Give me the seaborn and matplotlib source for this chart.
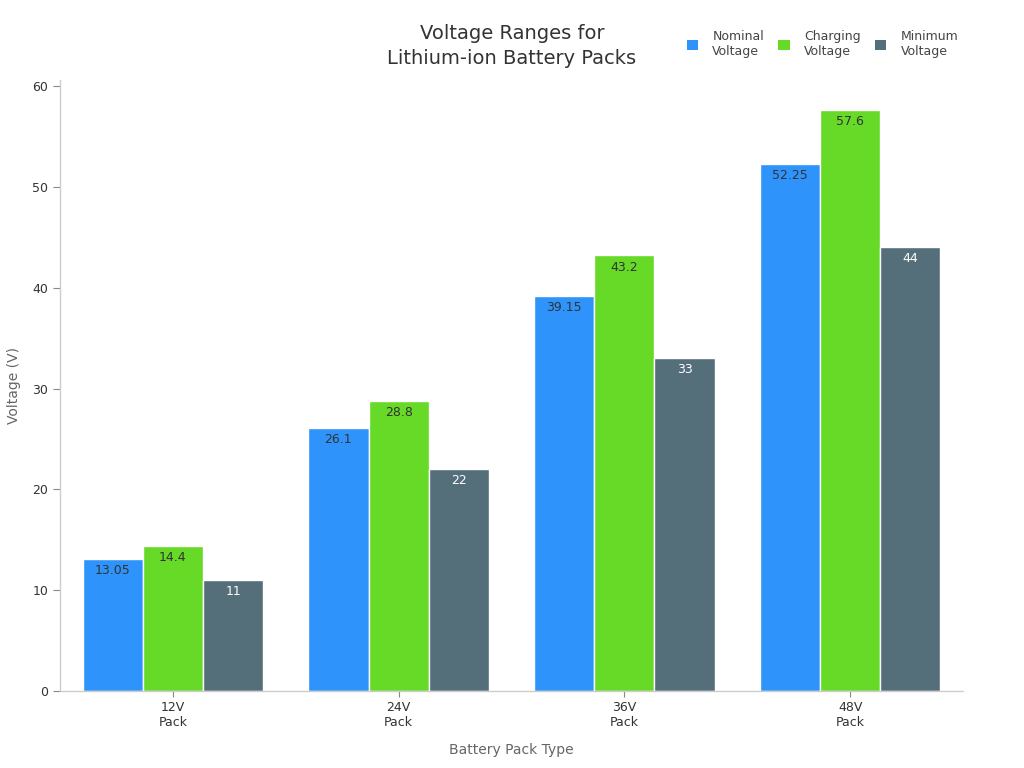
import matplotlib
matplotlib.use("Agg")
import matplotlib.pyplot as plt
import seaborn as sns
import pandas as pd
from matplotlib.patches import Patch

categories = ["12V\nPack", "24V\nPack", "36V\nPack", "48V\nPack"]
series_names = ["Nominal\nVoltage", "Charging\nVoltage", "Minimum\nVoltage"]
nominal = [13.05, 26.1, 39.15, 52.25]
charging = [14.4, 28.8, 43.2, 57.6]
minimum = [11, 22, 33, 44]
colors = ["#2E93FA", "#66DA26", "#546E7A"]
label_colors = ["#333333", "#333333", "#ffffff"]

rows = []
for name, vals in zip(series_names, [nominal, charging, minimum]):
    for c, v in zip(categories, vals):
        rows.append({"Battery Pack Type": c, "Series": name, "Voltage": v})
df = pd.DataFrame(rows)

sns.set_style("ticks")
plt.rcParams['font.family'] = ['DejaVu Sans']

fig = plt.figure(figsize=(10.24, 7.68), dpi=100)
ax = fig.add_axes([0.0586, 0.1003, 0.8818, 0.7955])

sns.barplot(data=df, x="Battery Pack Type", y="Voltage", hue="Series",
            palette=colors, ax=ax, width=0.8, edgecolor="white", linewidth=1,
            saturation=1, legend=False)

for i, cont in enumerate(ax.containers):
    ax.bar_label(cont, labels=[f"{v:g}" for v in cont.datavalues],
                 label_type="edge", padding=-13, color=label_colors[i], fontsize=9)

ax.set_ylim(0, 60.6)
ax.set_xlim(-0.5, 3.5)
ax.set_yticks([0, 10, 20, 30, 40, 50, 60])
ax.tick_params(axis="both", labelsize=9, labelcolor="#333333", length=4, width=0.8,
               color="#888888", direction="out")
ax.tick_params(axis="y", length=5)
for side in ["top", "right"]:
    ax.spines[side].set_visible(False)
for side in ["left", "bottom"]:
    ax.spines[side].set_color("#cccccc")
    ax.spines[side].set_linewidth(1)

ax.set_xlabel("Battery Pack Type", fontsize=10, color="#666666", labelpad=10)
ax.set_ylabel("Voltage (V)", fontsize=10, color="#666666", labelpad=8)

fig.text(0.5, 0.940, "Voltage Ranges for\nLithium-ion Battery Packs", ha="center",
         va="center", fontsize=14, color="#333333", linespacing=1.4)

handles = [Patch(facecolor=c, edgecolor="none") for c in colors]
leg = fig.legend(handles, series_names, loc="upper right", bbox_to_anchor=(0.947, 0.975),
                 ncol=3, frameon=False, fontsize=9, handlelength=0.9, handleheight=0.9,
                 columnspacing=1.15, handletextpad=1.15, labelcolor="#444444")

fig.savefig("out.png", dpi=100)
